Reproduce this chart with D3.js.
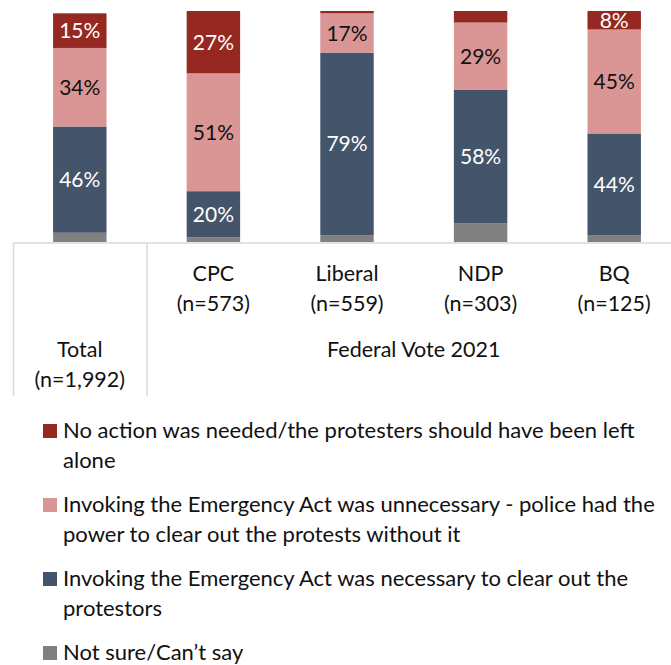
<!DOCTYPE html>
<html>
<head>
<meta charset="utf-8">
<script src="https://cdn.jsdelivr.net/npm/d3@7"></script>
<style>
  body { margin: 0; background: #fff; }
  svg { display: block; font-family: Lato, "Open Sans", sans-serif; }
</style>
</head>
<body>
<div id="chart"></div>
<script>
// Chart data
const categories = ['Total', 'CPC', 'Liberal', 'NDP', 'BQ'];
const sampleSizes = ['(n=1,992)', '(n=573)', '(n=559)', '(n=303)', '(n=125)'];
const groupLabel = 'Federal Vote 2021';

const noAction = [15, 27, 1, 5, 8];
const unnecessary = [34, 51, 17, 29, 45];
const necessary = [46, 20, 79, 58, 44];
const notSure = [4, 2, 3, 8, 3];

const seriesKeys = ['notSure', 'necessary', 'unnecessary', 'noAction'];
const seriesColors = {
  noAction: '#952922',
  unnecessary: '#da9694',
  necessary: '#44546a',
  notSure: '#808080'
};
const labelColors = {
  noAction: '#ffffff',
  unnecessary: '#111111',
  necessary: '#ffffff',
  notSure: '#ffffff'
};
const legendItems = [
  { key: 'noAction', lines: ['No action was needed/the protesters should have been left', 'alone'] },
  { key: 'unnecessary', lines: ['Invoking the Emergency Act was unnecessary - police had the', 'power to clear out the protests without it'] },
  { key: 'necessary', lines: ['Invoking the Emergency Act was necessary to clear out the', 'protestors'] },
  { key: 'notSure', lines: ['Not sure/Can\u2019t say'] }
];

const width = 671;
const height = 665;

// build rows for the stack
const rows = categories.map((c, i) => ({
  category: c,
  noAction: noAction[i],
  unnecessary: unnecessary[i],
  necessary: necessary[i],
  notSure: notSure[i]
}));

const svg = d3.select('#chart')
  .append('svg')
  .attr('width', width)
  .attr('height', height);

const x = d3.scaleBand()
  .domain(categories)
  .range([13, 681])
  .paddingInner(0.6)
  .paddingOuter(0.3);

const y = d3.scaleLinear()
  .domain([0, 100])
  .range([242, 11]);

const stacked = d3.stack().keys(seriesKeys)(rows);

// bars
const layers = svg.append('g')
  .selectAll('g')
  .data(stacked)
  .join('g')
  .attr('fill', d => seriesColors[d.key]);

layers.selectAll('rect')
  .data(d => d)
  .join('rect')
  .attr('x', d => x(d.data.category))
  .attr('width', x.bandwidth())
  .attr('y', d => y(d[1]))
  .attr('height', d => y(d[0]) - y(d[1]));

// value labels (skip the small ones and "not sure")
layers.each(function(layer) {
  if (layer.key === 'notSure') return;
  d3.select(this).selectAll('text')
    .data(layer.filter(d => d[1] - d[0] >= 8))
    .join('text')
    .attr('x', d => x(d.data.category) + x.bandwidth() / 2)
    .attr('y', d => (y(d[0]) + y(d[1])) / 2)
    .attr('dy', '0.36em')
    .attr('text-anchor', 'middle')
    .attr('fill', labelColors[layer.key])
    .style('font-size', '21px')
    .text(d => (d[1] - d[0]) + '%');
});

// category table under the bars
const table = svg.append('g')
  .attr('stroke', '#d9d9d9')
  .attr('stroke-width', 1.5);

table.append('line')
  .attr('x1', 13).attr('x2', width)
  .attr('y1', 243).attr('y2', 243);
table.append('line')
  .attr('x1', 13.5).attr('x2', 13.5)
  .attr('y1', 243).attr('y2', 396);
table.append('line')
  .attr('x1', 147).attr('x2', 147)
  .attr('y1', 243).attr('y2', 396);

const labels = svg.append('g')
  .attr('fill', '#111')
  .style('font-size', '21.5px')
  .attr('text-anchor', 'middle');

categories.forEach((c, i) => {
  const cx = x(c) + x.bandwidth() / 2;
  const top = i === 0 ? 357 : 281;
  labels.append('text').attr('x', cx).attr('y', top).text(c);
  labels.append('text').attr('x', cx).attr('y', top + 30).text(sampleSizes[i]);
});

labels.append('text')
  .attr('x', (x('CPC') + x('BQ') + x.bandwidth()) / 2)
  .attr('y', 357)
  .text(groupLabel);

// legend
const legend = svg.append('g')
  .attr('transform', 'translate(43,424)');

let ly = 0;
legendItems.forEach(item => {
  const g = legend.append('g').attr('transform', `translate(0,${ly})`);
  g.append('rect')
    .attr('width', 14)
    .attr('height', 14)
    .attr('fill', seriesColors[item.key]);
  item.lines.forEach((line, j) => {
    g.append('text')
      .attr('x', 20)
      .attr('y', 14 + j * 29.5)
      .attr('fill', '#111')
      .style('font-size', '22px')
      .text(line);
  });
  ly += 74;
});
</script>
</body>
</html>
